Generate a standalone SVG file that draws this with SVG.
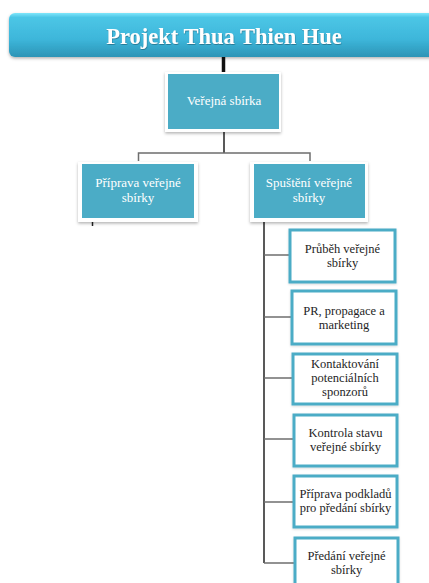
<svg xmlns="http://www.w3.org/2000/svg" width="429" height="583" viewBox="0 0 429 583">
  <defs>
    <linearGradient id="titleGrad" x1="0" y1="0" x2="0" y2="1">
      <stop offset="0" stop-color="#7fe6fb"/>
      <stop offset="0.1" stop-color="#4cc6e6"/>
      <stop offset="0.6" stop-color="#3db6da"/>
      <stop offset="1" stop-color="#2c94b6"/>
    </linearGradient>
    <filter id="shadow" x="-20%" y="-20%" width="140%" height="150%">
      <feDropShadow dx="0" dy="1.5" stdDeviation="1.5" flood-color="#000" flood-opacity="0.3"/>
    </filter>
    <filter id="softShadow" x="-20%" y="-20%" width="140%" height="150%">
      <feDropShadow dx="0" dy="1" stdDeviation="1" flood-color="#000" flood-opacity="0.15"/>
    </filter>
    <filter id="textShadow" x="-10%" y="-20%" width="120%" height="150%">
      <feDropShadow dx="0.5" dy="1" stdDeviation="0.6" flood-color="#1a5a70" flood-opacity="0.6"/>
    </filter>
  </defs>
  <style>
    .frame { fill: #ffffff; filter: url(#shadow); }
    .fill { fill: #4bacc6; }
    .child { fill: #ffffff; stroke: #4bacc6; stroke-width: 3; filter: url(#softShadow); }
    .lt { font-size: 13px; fill: #ffffff; text-anchor: middle; }
    .ct { font-size: 12.5px; fill: #1e1e1e; text-anchor: middle; }
    .trunk { stroke: #222222; stroke-width: 1.5; fill: none; }
    .branch { stroke: #6e6e6e; stroke-width: 1.5; fill: none; }
  </style>

  <rect width="429" height="583" fill="#ffffff"/>

  <!-- connectors -->
  <g id="connectors">
    <line x1="223.5" y1="57" x2="223.5" y2="72" stroke="#111" stroke-width="3.5"/>
    <line class="trunk" x1="224" y1="132" x2="224" y2="153"/>
    <polyline class="branch" points="138.5,161 138.5,153 310,153 310,161"/>
    <line class="trunk" x1="92.5" y1="222" x2="92.5" y2="226"/>
    <line class="trunk" x1="264" y1="222" x2="264" y2="563"/>
    <line class="branch" x1="264" y1="255" x2="289" y2="255"/>
    <line class="branch" x1="264" y1="317" x2="291" y2="317"/>
    <line class="branch" x1="264" y1="378" x2="292" y2="378"/>
    <line class="branch" x1="264" y1="439" x2="293" y2="439"/>
    <line class="branch" x1="264" y1="502" x2="293" y2="502"/>
    <line class="branch" x1="264" y1="563" x2="294" y2="563"/>
  </g>

  <!-- title banner -->
  <g id="title">
    <rect x="9" y="13" width="436" height="44" rx="6" fill="url(#titleGrad)" filter="url(#shadow)"/>
    <text x="224" y="44" font-family="'Liberation Serif', 'Times New Roman', serif" font-size="22.5" font-weight="bold" fill="#ffffff" text-anchor="middle" filter="url(#textShadow)">Projekt Thua Thien Hue</text>
  </g>

  <g font-family="'Liberation Serif', 'Times New Roman', serif">
    <!-- level 1 -->
    <g id="verejna-sbirka">
      <rect class="frame" x="165" y="72" width="116" height="60"/>
      <rect class="fill" x="168" y="74" width="111" height="55"/>
      <text class="lt" x="224" y="105">Veřejná sbírka</text>
    </g>

    <!-- level 2 -->
    <g id="priprava">
      <rect class="frame" x="78" y="162" width="120" height="60"/>
      <rect class="fill" x="82" y="164" width="112" height="54"/>
      <text class="lt" x="138" y="187">Příprava veřejné</text>
      <text class="lt" x="138" y="202">sbírky</text>
    </g>
    <g id="spusteni">
      <rect class="frame" x="250" y="162" width="118" height="60"/>
      <rect class="fill" x="254" y="164" width="111" height="54"/>
      <text class="lt" x="309" y="187">Spuštění veřejné</text>
      <text class="lt" x="309" y="202">sbírky</text>
    </g>

    <!-- level 3 -->
    <g id="prubeh">
      <rect class="child" x="290" y="230" width="105" height="52"/>
      <text class="ct" x="342.5" y="253">Průběh veřejné</text>
      <text class="ct" x="342.5" y="267">sbírky</text>
    </g>
    <g id="pr">
      <rect class="child" x="292" y="291" width="104" height="53"/>
      <text class="ct" x="344" y="315">PR, propagace a</text>
      <text class="ct" x="344" y="329">marketing</text>
    </g>
    <g id="kontaktovani">
      <rect class="child" x="293" y="354" width="104" height="50"/>
      <text class="ct" x="345" y="368">Kontaktování</text>
      <text class="ct" x="345" y="382">potenciálních</text>
      <text class="ct" x="345" y="396">sponzorů</text>
    </g>
    <g id="kontrola">
      <rect class="child" x="294" y="415" width="103" height="51"/>
      <text class="ct" x="345.5" y="437">Kontrola stavu</text>
      <text class="ct" x="345.5" y="451">veřejné sbírky</text>
    </g>
    <g id="priprava-podkladu">
      <rect class="child" x="294" y="476" width="103" height="51"/>
      <text class="ct" x="345.5" y="498">Příprava podkladů</text>
      <text class="ct" x="345.5" y="512">pro předání sbírky</text>
    </g>
    <g id="predani">
      <rect class="child" x="295" y="538" width="103" height="52"/>
      <text class="ct" x="346.5" y="560">Předání veřejné</text>
      <text class="ct" x="346.5" y="574">sbírky</text>
    </g>
  </g>
</svg>
